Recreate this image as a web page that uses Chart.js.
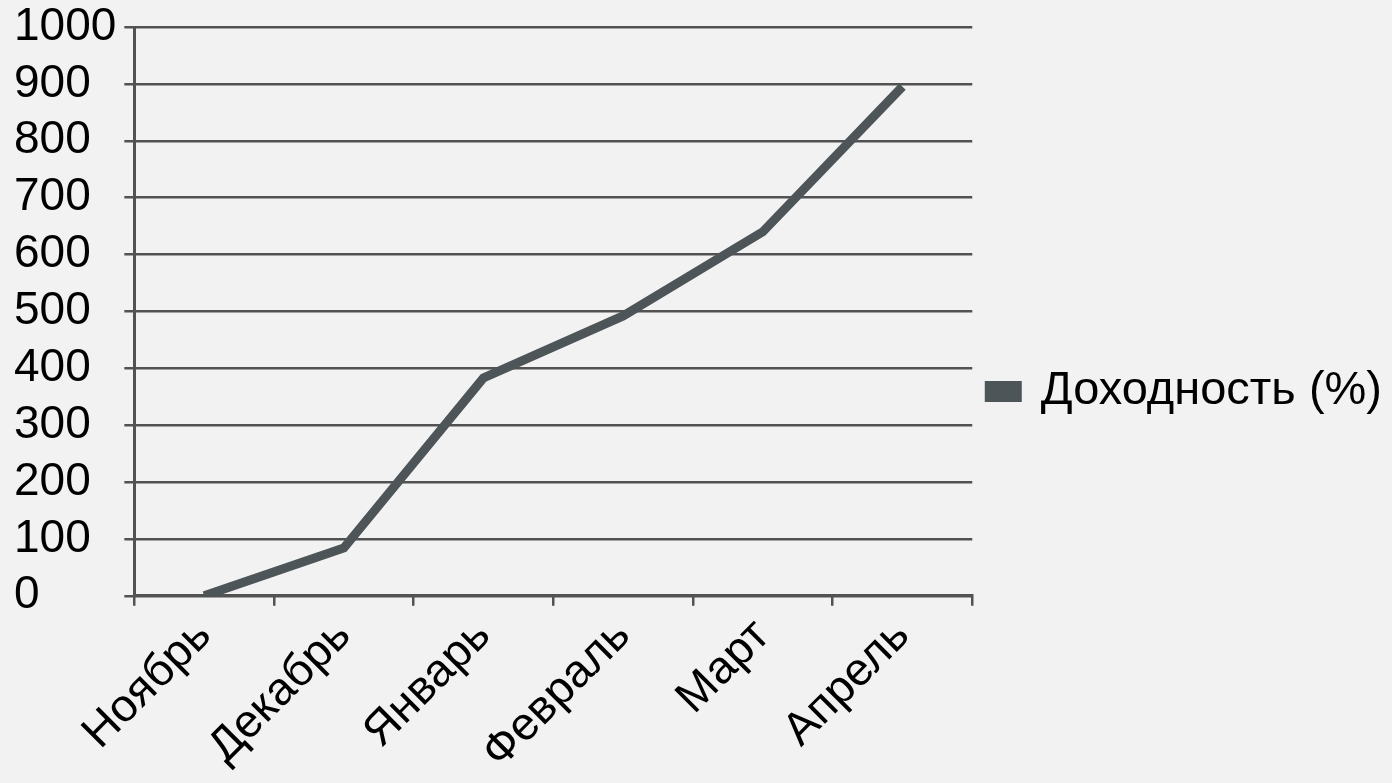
<!DOCTYPE html>
<html>
<head>
<meta charset="utf-8">
<script src="https://cdn.jsdelivr.net/npm/chart.js@4"></script>
<style>
  html, body { margin: 0; padding: 0; background: #f2f2f2; }
  #wrap { width: 1392px; height: 783px; }
</style>
</head>
<body>
<div id="wrap"><canvas id="myChart"></canvas></div>
<script>
const months = ['Ноябрь', 'Декабрь', 'Январь', 'Февраль', 'Март', 'Апрель']
const returns = [0, 84, 383, 492, 640, 895]
const seriesName = 'Доходность (%)'

const fontFace = "'Liberation Sans', Arial, sans-serif"
const gridColor = '#525252'

function drawChart() {
    const ctx = document.getElementById('myChart').getContext('2d')
    const myChart = new Chart(ctx, {
        type: 'line',
        data: {
            labels: months,
            datasets: [{
                label: seriesName,
                data: returns,
                borderColor: '#4d5559',
                backgroundColor: '#4d5559',
                borderWidth: 9,
                pointRadius: 0,
                tension: 0
            }]
        },
        options: {
            responsive: true,
            maintainAspectRatio: false,
            animation: false,
            layout: { padding: { left: 14, top: 0, right: 0, bottom: 0 } },
            plugins: {
                legend: {
                    position: 'right',
                    maxWidth: 600,
                    labels: {
                        color: '#000',
                        font: { family: fontFace, size: 47 },
                        boxWidth: 28,
                        boxHeight: 12,
                        padding: 17
                    }
                },
                tooltip: { enabled: false }
            },
            scales: {
                x: {
                    offset: true,
                    grid: {
                        offset: true,
                        drawOnChartArea: false,
                        color: gridColor,
                        lineWidth: 2.5,
                        tickLength: 10
                    },
                    border: { color: gridColor, width: 3 },
                    ticks: {
                        color: '#000',
                        font: { family: fontFace, size: 46 },
                        minRotation: 45,
                        maxRotation: 45,
                        padding: 3
                    }
                },
                y: {
                    min: 0,
                    max: 1000,
                    grid: {
                        color: gridColor,
                        lineWidth: 2.5,
                        tickLength: 10
                    },
                    border: { color: gridColor, width: 3 },
                    ticks: {
                        stepSize: 100,
                        autoSkip: false,
                        color: '#000',
                        crossAlign: 'far',
                        font: { family: fontFace, size: 46, lineHeight: 1.0 },
                        padding: 4,
                        callback: value => String(value)
                    }
                }
            }
        }
    })
}

document.fonts.load("46px 'Liberation Sans'").then(drawChart, drawChart)
</script>
</body>
</html>
